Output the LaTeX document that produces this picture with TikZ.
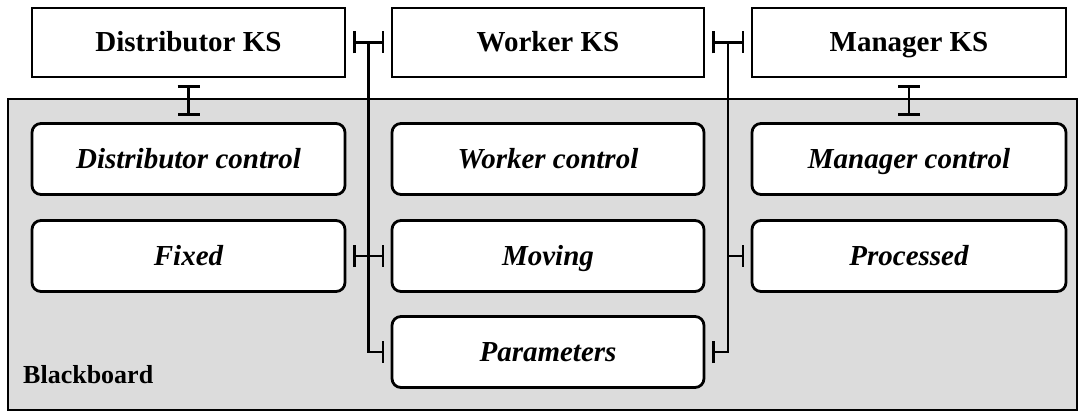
\documentclass[tikz,border=0pt]{standalone}
\usepackage{fontspec}
\setmainfont{Liberation Serif}
\usetikzlibrary{arrows.meta,calc}
\definecolor{bbgray}{RGB}{220,220,220}
\begin{document}
\begin{tikzpicture}[x=1pt,y=-1pt,
  ksbox/.style={draw,line width=2.8pt,fill=white,minimum width=313pt,minimum height=69pt,
    inner sep=0pt,outer sep=0pt,font=\fontsize{29}{30}\selectfont\bfseries,
    text height=19pt,text depth=0pt},
  databox/.style={ksbox,rounded corners=9pt,minimum height=71pt,
    font=\fontsize{29}{30}\selectfont\bfseries\itshape},
  link/.style={line width=2.5pt},
  teeboth/.style={link,{Bar[width=22pt]}-{Bar[width=22pt]},shorten <=8pt,shorten >=8pt},
  teeend/.style={link,-{Bar[width=22pt]},shorten >=8pt},
  bbox/.style={draw,line width=2.2pt,fill=bbgray,inner sep=0pt,outer sep=0pt,
    minimum width=1069pt,minimum height=311pt,anchor=north west}
]
\useasboundingbox (0,0) rectangle (1079,412);
% blackboard area
\node[bbox] (bb) at (8,99) {};
\node[anchor=base west,inner sep=0pt,font=\fontsize{26}{28}\selectfont\bfseries] (bblabel) at (23,383) {Blackboard};
% knowledge sources
\node[ksbox] (dks) at (188.5,42.5) {Distributor KS};
\node[ksbox,minimum width=312pt] (wks) at (548,42.5) {Worker KS};
\node[ksbox,minimum width=314pt] (mks) at (909,42.5) {Manager KS};
% blackboard data
\node[databox] (dctl) at (188.5,159) {Distributor control};
\node[databox,minimum width=312pt] (wctl) at (548,159) {Worker control};
\node[databox,minimum width=314pt] (mctl) at (909,159) {Manager control};
\node[databox] (fixed) at (188.5,256) {Fixed};
\node[databox,minimum width=312pt] (moving) at (548,256) {Moving};
\node[databox,minimum width=314pt] (processed) at (909,256) {Processed};
\node[databox,minimum width=312pt] (params) at (548,352) {Parameters};
% connectors
\draw[teeboth] (dks.south) -- (dctl.north);
\draw[teeboth] (mks.south) -- (mctl.north);
\coordinate (lx) at ($(dks.east)!0.5!(wks.west)$);
\coordinate (rx) at ($(wks.east)!0.5!(mks.west)$);
\draw[teeboth] (dks.east) -- (wks.west);
\draw[teeboth] (wks.east) -- (mks.west);
\draw[teeend] (lx) |- (params.west);
\draw[teeend] (rx) |- (params.east);
\draw[teeboth] (fixed.east) -- (moving.west);
\draw[teeend] (rx |- processed.west) -- (processed.west);
\end{tikzpicture}
\end{document}
